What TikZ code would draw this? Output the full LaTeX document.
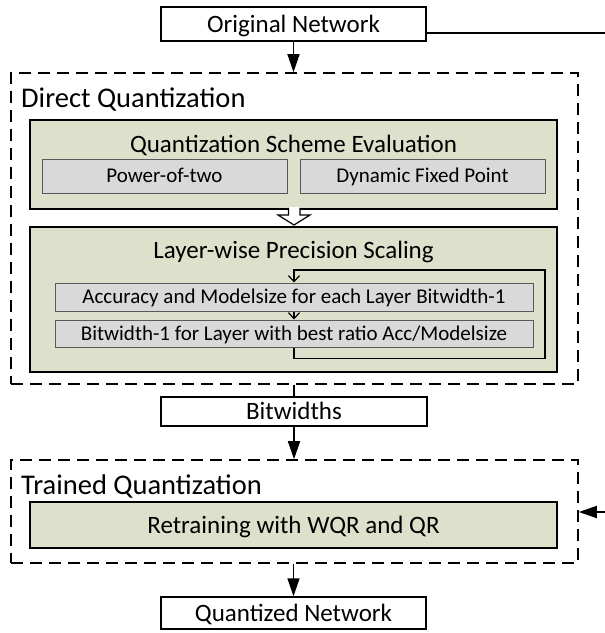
\documentclass[tikz,border=0pt]{standalone}
\usepackage{fontspec}
\setmainfont{Carlito}
\usetikzlibrary{arrows.meta}
\definecolor{olivefill}{RGB}{221,225,204}
\definecolor{greyfill}{RGB}{217,217,217}
\tikzset{
	plainbox/.style={draw, line width=1.5pt, fill=white, inner sep=0pt, font=\fontsize{25}{30}\selectfont, text height=16pt, text depth=0pt},
	stagebox/.style={draw, dash pattern=on 12pt off 7pt, line width=1.6pt, inner sep=0pt},
	olivebox/.style={draw, line width=2.4pt, fill=olivefill, inner sep=0pt, font=\fontsize{25}{30}\selectfont, text height=16pt, text depth=0pt},
	greybox/.style={draw=black!65, line width=1pt, fill=greyfill, inner sep=0pt, font=\fontsize{21}{25}\selectfont, text height=13.5pt, text depth=0pt},
	boxtitle/.style={anchor=base, inner sep=0pt, font=\fontsize{25}{30}\selectfont},
	stagetitle/.style={anchor=base west, inner sep=0pt, font=\fontsize{28.5}{34}\selectfont},
	flow/.style={line width=1.5pt, -{Triangle[length=18pt,width=12pt]}},
	loopflow/.style={line width=1.2pt, -{Straight Barb[length=6pt,width=11pt]}},
}

\begin{document}
\begin{tikzpicture}[x=1pt, y=-1pt]
	%%%%% START %%%%%
	\useasboundingbox (0,0) rectangle (605,633);
	
	\node[plainbox, minimum width=265pt, minimum height=34pt] (orig) at (293.5,24) {Original Network};
	
	% direct quantization
	\node[stagebox, minimum width=567pt, minimum height=311pt] (dq) at (294.5,228.5) {};
	\node[stagetitle] (dqtitle) at (21,107) {Direct Quantization};
	
	\node[olivebox, minimum width=527pt, minimum height=89pt] (qse) at (293.5,164.5) {};
	\node[boxtitle] (qsetitle) at (293.5,152) {Quantization Scheme Evaluation};
	\node[greybox, minimum width=245pt, minimum height=34pt] (pow) at (164.5,176) {Power-of-two};
	\node[greybox, minimum width=245pt, minimum height=34pt] (dfp) at (422.5,176) {Dynamic Fixed Point};
	
	\node[olivebox, minimum width=527pt, minimum height=145pt] (lps) at (293.5,299.5) {};
	\node[boxtitle] (lpstitle) at (293.5,258) {Layer-wise Precision Scaling};
	\node[greybox, minimum width=478pt, minimum height=28pt] (acc) at (294,297) {Accuracy and Modelsize for each Layer Bitwidth-1};
	\node[greybox, minimum width=478pt, minimum height=27pt] (bw) at (294,333.5) {Bitwidth-1 for Layer with best ratio Acc/Modelsize};
	
	\node[plainbox, minimum width=266pt, minimum height=29pt] (bits) at (294,411.5) {Bitwidths};
	
	% trained quantization
	\node[stagebox, minimum width=567pt, minimum height=103pt] (tq) at (294.5,511.5) {};
	\node[stagetitle] (tqtitle) at (21,494) {Trained Quantization};
	\node[olivebox, minimum width=527pt, minimum height=46pt] (retrain) at (293.5,525) {Retraining with WQR and QR};
	
	\node[plainbox, minimum width=265pt, minimum height=32pt] (quant) at (293.5,613) {Quantized Network};
	
	% connectors
	\coordinate (origexit) at (605,33);
	\coordinate (fbentry) at (605,512);
	\coordinate (loopcorner) at (545,270);
	
	\draw[flow] (orig.south) -- (orig.south |- dq.north);
	\draw[line width=1.5pt] (orig.east |- origexit) -- (origexit);
	
	\fill[white] (288.5,207) rectangle (300,216);
	\draw[line width=1.2pt, fill=white] (288.5,207.8) -- (288.5,215) -- (278,215) -- (294,225) -- (310,215) -- (300,215) -- (300,207.8);
	
	\draw[loopflow] (bw.south) -- ++(0,11) -| (loopcorner) -| (acc.north);
	\draw[loopflow] (acc.south) -- (bw.north);
	
	\draw[line width=1.5pt] (dq.south -| bits.north) -- (bits.north);
	\draw[flow] (bits.south) -- (bits.south |- tq.north);
	\draw[flow] (fbentry) -- (fbentry -| tq.east);
	\draw[flow] (tq.south -| quant.north) -- (quant.north);
	
	%%%%% END %%%%%
\end{tikzpicture}
\end{document}
